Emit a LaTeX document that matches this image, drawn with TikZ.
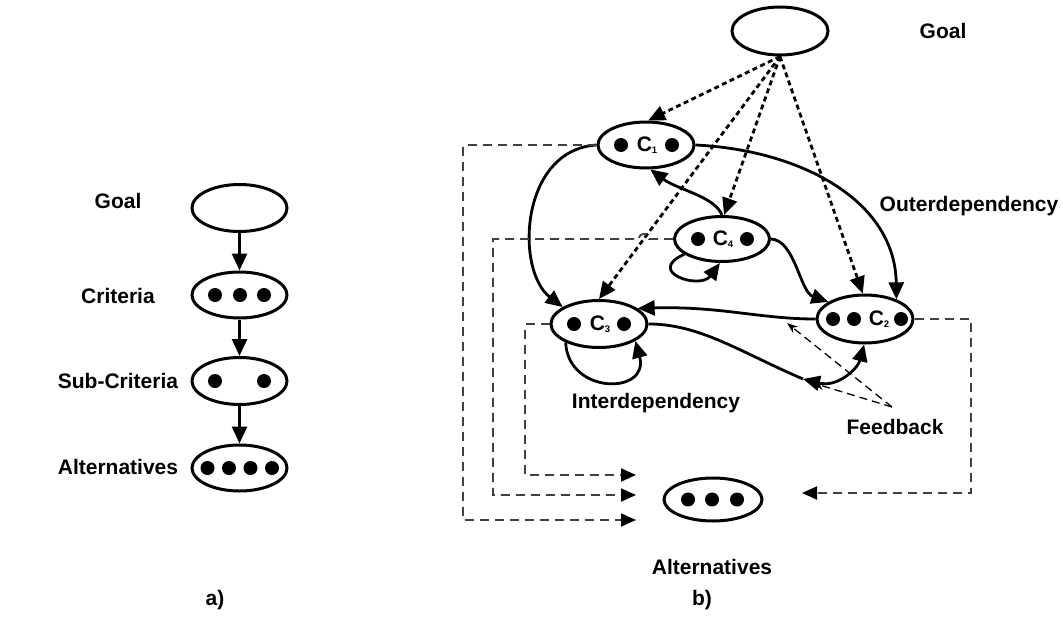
\documentclass[tikz,border=0pt]{standalone}
\usepackage{fontspec}
\setmainfont{Liberation Sans}
\usetikzlibrary{shapes.geometric,arrows.meta}

% small index under a cluster letter
\newcommand\csub[1]{\raisebox{-1.5pt}{\fontsize{9.5}{9.5}\selectfont #1}}

\begin{document}
\begin{tikzpicture}[x=1pt,y=-1pt,
  every node/.style={font=\fontsize{21}{25}\selectfont\bfseries},
  cluster/.style={draw,ellipse,line width=3pt,inner sep=0pt},
  lbl/.style={inner sep=0pt},
  dot/.style={circle,fill,inner sep=0pt,minimum size=14pt},
  link/.style={line width=2.8pt,-{Triangle[length=17pt,width=15pt]}},
  twoway/.style={line width=2.8pt,{Triangle[length=17pt,width=15pt]}-{Triangle[length=17pt,width=15pt]}},
  goalline/.style={line width=2.8pt,dash pattern=on 5pt off 3.5pt,-{Triangle[length=17pt,width=15pt]}},
  fb/.style={draw=black!75,line width=1.8pt,dash pattern=on 9pt off 6pt,-{Triangle[length=15pt,width=13pt,color=black]}},
  note/.style={line width=1.3pt,dash pattern=on 8pt off 5pt,-{Stealth[length=11pt,width=8pt]}}
]
\useasboundingbox (0,0) rectangle (1063,616);

% ---------------- a) hierarchy ----------------
\node[cluster,minimum width=95pt,minimum height=47pt] (aGoal) at (239.5,208) {};
\node[cluster,minimum width=95pt,minimum height=46pt] (aCrit) at (239.5,295) {};
\node[cluster,minimum width=95pt,minimum height=47pt] (aSub)  at (239.5,381) {};
\node[cluster,minimum width=95pt,minimum height=46pt] (aAlt)  at (239.5,468) {};
\foreach \x [count=\i] in {215,240,264} \node[dot] (aCritDot\i) at (\x,295) {};
\foreach \x [count=\i] in {215,264} \node[dot] (aSubDot\i) at (\x,381) {};
\foreach \x [count=\i] in {207.5,229,250.5,272} \node[dot] (aAltDot\i) at (\x,468) {};

\draw[link] (aGoal) -- (aCrit);
\draw[link] (aCrit) -- (aSub);
\draw[link] (aSub) -- (aAlt);

\node[lbl] (aGoalLbl) at (118,201) {Goal};
\node[lbl] (aCritLbl) at (118,296) {Criteria};
\node[lbl] (aSubLbl)  at (118,381) {Sub-Criteria};
\node[lbl] (aAltLbl)  at (118,467) {Alternatives};
\node[lbl] (aTag)     at (215,600) {a)};

% ---------------- b) network ----------------
\node[cluster,minimum width=96pt,minimum height=48pt] (bGoal) at (780,31) {};
\node[cluster,minimum width=96pt,minimum height=46pt] (C1) at (646,145) {};
\node[cluster,minimum width=95pt,minimum height=45pt] (C4) at (722,239) {};
\node[cluster,minimum width=96pt,minimum height=48pt] (C2) at (865,319) {};
\node[cluster,minimum width=96pt,minimum height=47pt] (C3) at (599,324) {};
\node[cluster,minimum width=98pt,minimum height=43pt] (bAlt) at (713,499.5) {};

% elements inside the clusters
\node[dot] (C1a) at (621,145) {};
\node[dot] (C1b) at (672,145) {};
\node[lbl] (C1t) at (647,145) {C\csub{1}};
\node[dot] (C4a) at (698,239) {};
\node[dot] (C4b) at (747,239) {};
\node[lbl] (C4t) at (723,239) {C\csub{4}};
\node[dot] (C2a) at (833,319) {};
\node[dot] (C2b) at (854,319) {};
\node[lbl] (C2t) at (879,319) {C\csub{2}};
\node[dot] (C2c) at (901,319) {};
\node[dot] (C3a) at (574,324) {};
\node[dot] (C3b) at (624,324) {};
\node[lbl] (C3t) at (600,324) {C\csub{3}};
\foreach \x [count=\i] in {688,712,737} \node[dot] (bAltDot\i) at (\x,499.5) {};

% labels
\node[lbl] (bGoalLbl) at (943,31) {Goal};
\node[lbl] (outerLbl) at (969,206) {Outerdependency};
\node[lbl] (interLbl) at (656,403) {Interdependency};
\node[lbl] (feedLbl)  at (895,427) {Feedback};
\node[lbl] (bAltLbl)  at (712,567) {Alternatives};
\node[lbl] (bTag)     at (702,600) {b)};

% goal to clusters
\draw[goalline] (bGoal.south) -- (C1.85);
\draw[goalline] (bGoal.south) -- (C4.85);
\draw[goalline] (bGoal.south) -- (C3.north);
\draw[goalline] (bGoal.south) -- (C2.95);

% dependencies between clusters
\draw[link] (C1.east) .. controls (800,150) and (895,200) .. (C2.32);
\draw[link] (C1.west) .. controls (520,150) and (515,270) .. (C3.155);
\draw[link] (C4.north) .. controls (714,196) and (678,190) .. (C1.-80);
\draw[link] (C4.-158) .. controls (645,272) and (700,290) .. (C4.-95);
\draw[link] (C4.east) .. controls (795,240) and (800,292) .. (C2.155);
\draw[link] (C2.west) .. controls (760,319) and (720,306) .. (C3.22);
\coordinate (J) at (803,379);
\draw[line width=2.8pt] (C3.east) .. controls (700,324) and (740,352) .. (J);
\draw[twoway] (J) .. controls (838,388) and (858,368) .. (C2.-92);
\draw[link] (C3.-151) .. controls (568,395) and (650,395) .. (C3.-25);

% links from the clusters to the alternatives
\coordinate (rail1) at (463,0);
\coordinate (rail2) at (493,0);
\coordinate (rail3) at (525,0);
\coordinate (rail4) at (971,0);
\coordinate (t1) at (636,520);
\coordinate (t2) at (636,495);
\coordinate (t3) at (636,475);
\coordinate (t4) at (802,493);
\draw[fb] (C1.west) -- (C1.west -| rail1) |- (t1);
\draw[fb] (C4.west) -- (649,239) .. controls (649,232) and (639,232) .. (639,239)
          -- (C4.west -| rail2) |- (t2);
\draw[fb] (C3.west) -- (C3.west -| rail3) |- (t3);
\draw[fb] (C2.east) -- (C2.east -| rail4) |- (t4);

% feedback pointers
\coordinate (fbSrc) at (892,407);
\coordinate (fbA) at (787,323);
\coordinate (fbB) at (813,383);
\draw[note] (fbSrc) -- (fbA);
\draw[note] (fbSrc) -- (fbB);
\end{tikzpicture}
\end{document}
